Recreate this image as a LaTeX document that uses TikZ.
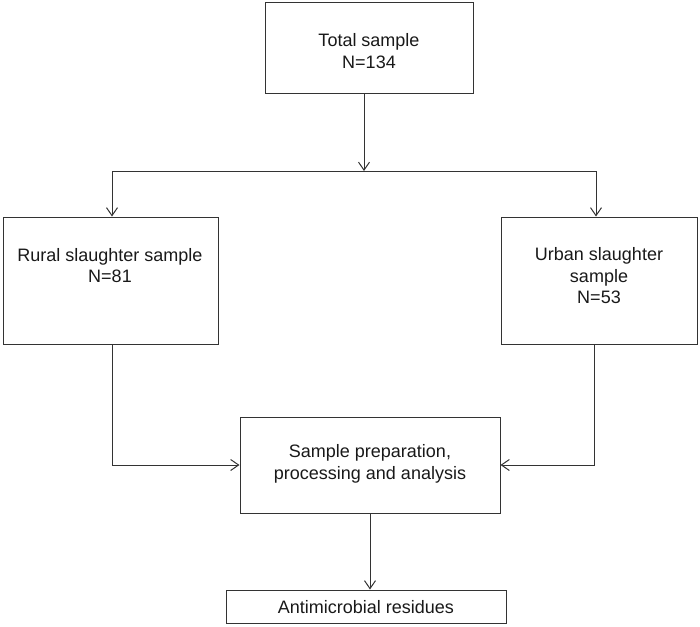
\documentclass[tikz,border=0pt]{standalone}
\usepackage{fontspec}
\setmainfont{Liberation Sans}
\usetikzlibrary{arrows.meta}
\begin{document}
\begin{tikzpicture}[x=1pt,y=-1pt,
  box/.style={draw=black!80, line width=1pt, rectangle, inner sep=0pt},
  lbl/.style={font=\fontsize{18}{21.5}\selectfont, align=center, inner sep=0pt, text=black!90},
  conn/.style={draw=black!80, line width=1pt},
  arr/.style={conn, -{Straight Barb[length=8pt,width=11pt]}}]
\useasboundingbox (0,0) rectangle (700,626);
% boxes
\node[box, minimum width=208pt, minimum height=90pt] (total) at (369,48) {};
\node[box, minimum width=215pt, minimum height=127pt] (rural) at (110.5,280.5) {};
\node[box, minimum width=196pt, minimum height=127pt] (urban) at (599,280.5) {};
\node[box, minimum width=260pt, minimum height=96pt] (mid) at (370,465) {};
\node[box, minimum width=280pt, minimum height=33pt] (res) at (366,606.5) {};
% texts
\node[lbl] (totalt) at (369,51) {Total sample\\N=134};
\node[lbl] (ruralt) at (110,265.5) {Rural slaughter sample\\N=81};
\node[lbl] (urbant) at (599,276) {Urban slaughter\\sample\\N=53};
\node[lbl] (midt) at (370,464) {Sample preparation,\\processing and analysis};
\node[lbl] (rest) at (366,607) {Antimicrobial residues};
% junction coordinates
\coordinate (j) at (364,171);
\coordinate (jl) at (112,171);
\coordinate (jr) at (596,171);
\coordinate (ub) at (594,344);
% connectors
\draw[arr] (total.south -| j) -- (j);
\draw[conn] (jl) -- (jr);
\draw[arr] (jl) -- (rural.north -| jl);
\draw[arr] (jr) -- (urban.north -| jr);
\draw[arr] (rural.south -| jl) |- (mid.west);
\draw[arr] (urban.south -| ub) |- (mid.east);
\draw[arr] (mid.south) -- (res.north -| mid.south);
\end{tikzpicture}
\end{document}
